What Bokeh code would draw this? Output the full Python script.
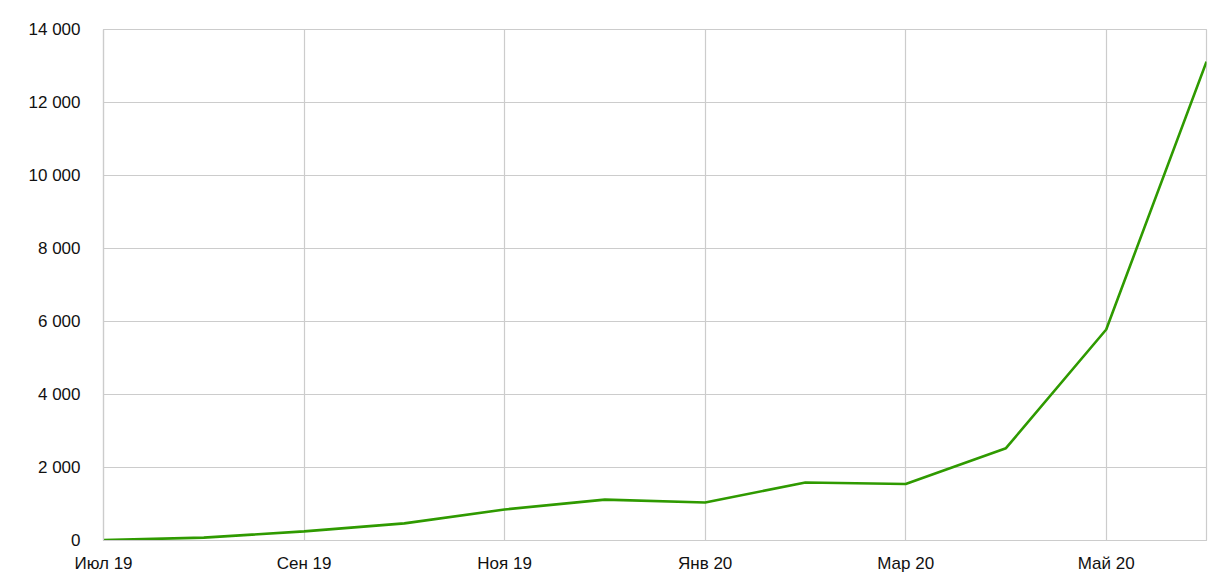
from bokeh.plotting import figure
from bokeh.models import FixedTicker, Range1d
from bokeh.embed import file_html
from bokeh.resources import INLINE

months = ["Июл 19", "Авг 19", "Сен 19", "Окт 19", "Ноя 19", "Дек 19",
          "Янв 20", "Фев 20", "Мар 20", "Апр 20", "Май 20", "Июн 20"]
values = [10, 80, 250, 470, 850, 1120, 1040, 1590, 1550, 2530, 5780, 13120]
y_ticks = [0, 2000, 4000, 6000, 8000, 10000, 12000, 14000]
y_tick_labels = ["0", "2 000", "4 000", "6 000", "8 000", "10 000", "12 000", "14 000"]
x_tick_idx = [0, 2, 4, 6, 8, 10]

x = list(range(len(months)))

p = figure(width=1219, height=579, output_backend="svg", toolbar_location=None,
           x_range=Range1d(0, len(months) - 1), y_range=Range1d(0, 14000),
           min_border_left=103, min_border_right=13, min_border_top=29, min_border_bottom=39)

p.line(x, values, line_color="#2f9a00", line_width=2.6)

grid_c = "#cccccc"
p.outline_line_color = grid_c
p.outline_line_width = 1.2

p.xaxis.ticker = FixedTicker(ticks=x_tick_idx)
p.xaxis.major_label_overrides = {i: months[i] for i in x_tick_idx}
p.yaxis.ticker = FixedTicker(ticks=y_ticks)
p.yaxis.major_label_overrides = {t: l for t, l in zip(y_ticks, y_tick_labels)}

for ax in (p.xaxis[0], p.yaxis[0]):
    ax.axis_line_color = grid_c
    ax.axis_line_width = 1.2
    ax.major_tick_line_color = None
    ax.minor_tick_line_color = None
    ax.major_tick_out = 0
    ax.major_tick_in = 0
    ax.major_label_text_font = "Liberation Sans"
    ax.major_label_text_font_size = "17px"
    ax.major_label_text_color = "#111111"

p.xaxis.major_label_standoff = 13
p.yaxis.major_label_standoff = 23

p.xgrid.grid_line_color = grid_c
p.ygrid.grid_line_color = grid_c
p.xgrid.grid_line_width = 1.2
p.ygrid.grid_line_width = 1.2

open("out.html", "w").write(file_html(p, INLINE))
